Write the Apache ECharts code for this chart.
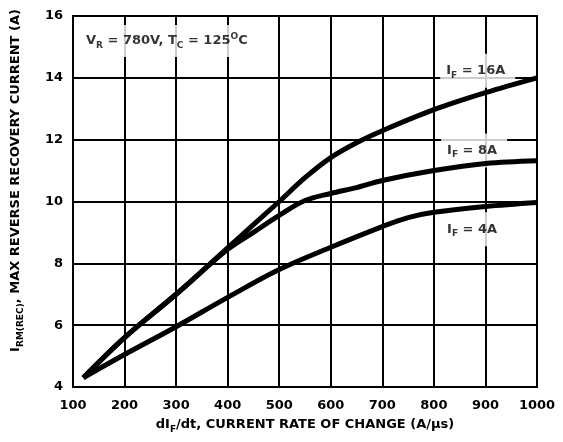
<!DOCTYPE html>
<html>
<head>
<meta charset="utf-8">
<script src="https://cdn.jsdelivr.net/npm/echarts@6/dist/echarts.min.js"></script>
<style>html,body{margin:0;padding:0;background:#fff}#c{width:563px;height:442px}</style>
</head>
<body>
<div id="c"></div>
<script>
const xTicks = [100, 200, 300, 400, 500, 600, 700, 800, 900, 1000];
const yTicks = [4, 6, 8, 10, 12, 14, 16];

const x16 = [120, 200, 300, 400, 500, 550, 600, 650, 700, 800, 900, 1000];
const y16 = [4.3, 5.6, 7.0, 8.5, 10.0, 10.77, 11.42, 11.9, 12.29, 12.97, 13.52, 14.0];

const x8 = [120, 200, 300, 400, 450, 500, 550, 600, 650, 700, 800, 900, 1000];
const y8 = [4.3, 5.6, 7.0, 8.45, 9.0, 9.55, 10.03, 10.26, 10.45, 10.68, 11.0, 11.23, 11.32];

const x4 = [120, 200, 300, 400, 500, 600, 700, 750, 800, 900, 1000];
const y4 = [4.3, 5.05, 5.95, 6.9, 7.8, 8.52, 9.19, 9.48, 9.65, 9.84, 9.97];

const noteText = ['{b|V}{s|R}{b| = 780V, T}{s|C}{b| = 125}{sup|O}{b|C}', '{b|I}{s|F}{b| = 16A}', '{b|I}{s|F}{b| = 8A}', '{b|I}{s|F}{b| = 4A}'];
const noteX = [284, 885, 878, 878];
const noteY = [15.19, 14.23, 11.65, 9.1];

const FF = 'DejaVu Sans';
const rich = {
  b: {fontFamily: FF, fontWeight: 'bold', fontSize: 13, color: '#000'},
  s: {fontFamily: FF, fontWeight: 'bold', fontSize: 9, color: '#000', verticalAlign: 'top', padding: [9, 0, 0, 0]},
  sup: {fontFamily: FF, fontWeight: 'bold', fontSize: 9, color: '#000', verticalAlign: 'top', padding: [0, 0, 0, 0]}
};

function pts(xs, ys) { return xs.map((x, i) => [x, ys[i]]); }

const chart = echarts.init(document.getElementById('c'), null, {renderer: 'canvas'});
const lineStyle = {color: '#000', width: 5};
chart.setOption({
  animation: false,
  backgroundColor: '#fff',
  grid: {left: 73, right: 26, top: 16, bottom: 55, show: true, borderColor: '#000', borderWidth: 2, backgroundColor: 'transparent'},
  xAxis: {
    type: 'value', min: 100, max: 1000, interval: 100,
    axisLine: {show: true, lineStyle: {color: '#000', width: 2}},
    axisTick: {show: false},
    splitLine: {show: true, lineStyle: {color: '#000', width: 2}},
    axisLabel: {color: '#000', fontFamily: FF, fontWeight: 'bold', fontSize: 13, margin: 12,
      formatter: v => xTicks.includes(v) ? String(v) : ''},
    name: '{b|dI}{s|F}{b|/dt, CURRENT RATE OF CHANGE (A/µs)}',
    nameLocation: 'middle', nameGap: 29,
    nameTextStyle: {rich: rich}
  },
  yAxis: {
    type: 'value', min: 4, max: 16, interval: 2,
    axisLine: {show: true, lineStyle: {color: '#000', width: 2}},
    axisTick: {show: false},
    splitLine: {show: true, lineStyle: {color: '#000', width: 2}},
    axisLabel: {color: '#000', fontFamily: FF, fontWeight: 'bold', fontSize: 13, margin: 10,
      formatter: v => yTicks.includes(v) ? String(v) : ''},
    name: '{b|I}{s|RM(REC)}{b|, MAX REVERSE RECOVERY CURRENT (A)}',
    nameLocation: 'middle', nameGap: 48,
    nameTextStyle: {rich: rich, padding: [0, 0, 0, 42]}
  },
  series: [
    {type: 'scatter', z: 2, symbolSize: 0, silent: true,
      data: noteX.map((x, i) => ({value: [x, noteY[i]],
        label: {show: true, position: 'inside', formatter: noteText[i], rich: rich,
          backgroundColor: '#fff', padding: i === 0 ? [7, 12, 7, 10] : [8, 10, 8, 6]}}))},
    {type: 'line', z: 3, data: pts(x16, y16), smooth: 0.35, showSymbol: false, lineStyle: lineStyle},
    {type: 'line', z: 3, data: pts(x8, y8), smooth: 0.35, showSymbol: false, lineStyle: lineStyle},
    {type: 'line', z: 3, data: pts(x4, y4), smooth: 0.35, showSymbol: false, lineStyle: lineStyle}
  ]
});
</script>
</body>
</html>
